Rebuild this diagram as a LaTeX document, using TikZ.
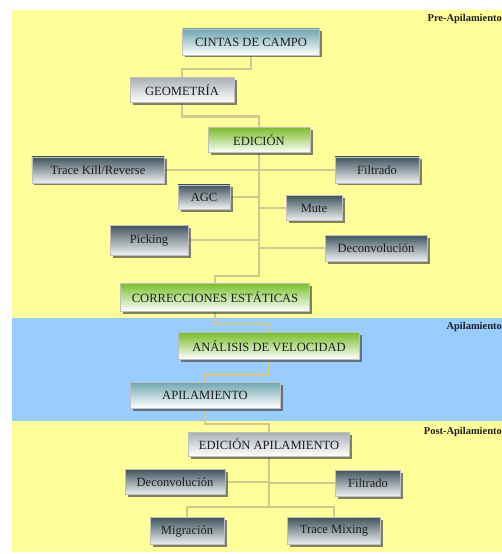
\documentclass[tikz,border=0pt]{standalone}
\usepackage{fontspec}
\setmainfont{Liberation Serif}
\usetikzlibrary{shadows,backgrounds}
\definecolor{bandyellow}{RGB}{255,255,153}
\definecolor{bandblue}{RGB}{153,204,255}
\definecolor{linktan}{RGB}{212,200,145}
\definecolor{tealtop}{RGB}{110,165,175}
\definecolor{greytop}{RGB}{170,176,182}
\definecolor{greentop}{RGB}{120,190,40}
\definecolor{slatetop}{RGB}{65,85,95}
\definecolor{inktext}{RGB}{30,30,30}

\tikzset{
  stage/.style={draw=black!25, line width=.4bp, inner sep=0pt,
    font=\fontsize{12.6}{12.6}\selectfont, text=inktext, bottom color=white,
    drop shadow={shadow xshift=2.5bp, shadow yshift=-2.5bp, opacity=.7, fill=black!70}},
  tealbox/.style={stage, top color=tealtop},
  greybox/.style={stage, top color=greytop},
  greenbox/.style={stage, top color=greentop},
  slatebox/.style={stage, top color=slatetop, bottom color=white!92!slatetop},
  link/.style={draw=linktan, line width=2.5bp},
  phase/.style={anchor=north east, inner sep=0pt, font=\fontsize{10.5}{10.5}\selectfont\bfseries, text=inktext}
}

\begin{document}
\begin{tikzpicture}[x=1bp, y=-1bp]
  \useasboundingbox (0,0) rectangle (502,554);

  % bands
  \node[phase] (prelab) at (502,14) {Pre-Apilamiento};
  \node[phase] (apilab) at (502,322) {Apilamiento};
  \node[phase] (postlab) at (502,427) {Post-Apilamiento};

  % pre-stack
  \node[tealbox, minimum width=137bp, minimum height=26bp] (cintas) at (251,42) {CINTAS DE CAMPO};
  \node[greybox, minimum width=104bp, minimum height=25bp] (geom) at (182,90) {GEOMETRÍA};
  \node[greenbox, minimum width=102bp, minimum height=25bp] (edicion) at (259,140) {EDICIÓN};
  \node[slatebox, minimum width=132bp, minimum height=26bp] (trace) at (98,170) {Trace Kill/Reverse};
  \node[slatebox, minimum width=84bp, minimum height=26bp] (filt) at (377,170) {Filtrado};
  \node[slatebox, minimum width=52bp, minimum height=24bp] (agc) at (204,197) {AGC};
  \node[slatebox, minimum width=56bp, minimum height=25bp] (mute) at (314,208) {Mute};
  \node[slatebox, minimum width=78bp, minimum height=30bp] (pick) at (149,240) {Picking};
  \node[slatebox, minimum width=102bp, minimum height=26bp] (deconv) at (376,248) {Deconvolución};
  \node[greenbox, minimum width=189bp, minimum height=28bp] (correc) at (215,297) {CORRECCIONES ESTÁTICAS};

  % stack
  \node[greenbox, minimum width=181bp, minimum height=27bp] (analisis) at (269,346) {ANÁLISIS DE VELOCIDAD};
  \node[tealbox, minimum width=150bp, minimum height=26bp] (apil) at (205,395) {APILAMIENTO};

  % post-stack
  \node[greybox, minimum width=161bp, minimum height=24bp] (edap) at (269,444) {EDICIÓN APILAMIENTO};
  \node[slatebox, minimum width=100bp, minimum height=25bp] (deconvb) at (175,482) {Deconvolución};
  \node[slatebox, minimum width=65bp, minimum height=26bp] (filtb) at (368,483) {Filtrado};
  \node[slatebox, minimum width=74bp, minimum height=27bp] (migr) at (187,531) {Migración};
  \node[slatebox, minimum width=93bp, minimum height=27bp] (mixing) at (334,531) {Trace Mixing};

  \coordinate (knot) at (259,276);
  \coordinate (split) at (269,507);

  \begin{scope}[on background layer]
    \fill[bandyellow] (12,10) rectangle (502,318);
    \fill[bandblue] (12,318) rectangle (502,421);
    \fill[bandyellow] (12,421) rectangle (502,552);

    \draw[link] (cintas.south) -- ++(0,14) -| (geom.north);
    \draw[link] (geom.south) -- ++(0,14) -| (edicion.north);
    \draw[link] (edicion.south) -- (knot) -| (correc.north);
    \foreach \b in {trace,filt,agc,mute,pick,deconv}
      \draw[link] (\b) -- (\b -| knot);
    \draw[link] (correc.south) -- ++(0,13) -| (analisis.north);
    \draw[link] (analisis.south) -- ++(0,15) -| (apil.north);
    \draw[link] (apil.south) -- ++(0,16) -| (edap.north);
    \draw[link] (edap.south) -- (split);
    \foreach \b in {deconvb,filtb}
      \draw[link] (\b) -- (\b -| split);
    \draw[link] (migr.north) |- (split) -| (mixing.north);
  \end{scope}
\end{tikzpicture}
\end{document}
